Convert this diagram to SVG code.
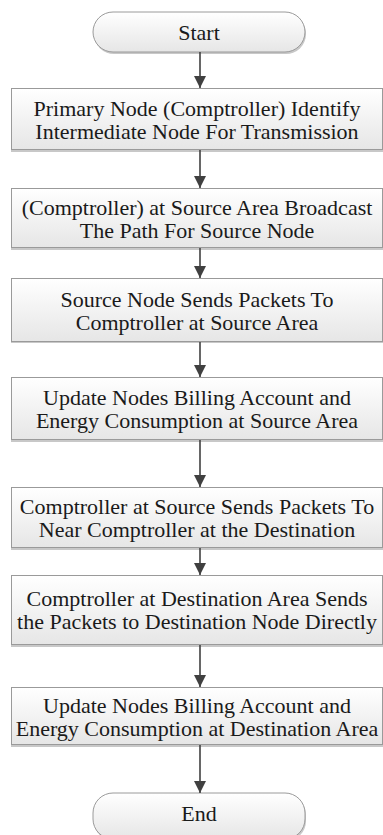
<svg xmlns="http://www.w3.org/2000/svg" width="383" height="835" viewBox="0 0 383 835">
  <defs>
    <linearGradient id="g" x1="0" y1="0" x2="0" y2="1">
      <stop offset="0" stop-color="#ffffff"/>
      <stop offset="1" stop-color="#e6e6e6"/>
    </linearGradient>
    <marker id="ah" markerWidth="12" markerHeight="12" refX="10" refY="5" orient="auto" markerUnits="userSpaceOnUse" viewBox="0 0 10 10">
      <path d="M0,0 L10,5 L0,10 Z" fill="#404040"/>
    </marker>
  </defs>
  <style>
    .box { fill: url(#g); stroke: #9a9a9a; stroke-width: 1; }
    .shadow { fill: #c8c8c8; }
    .t { font-family: "Liberation Serif", "Times New Roman", serif; font-size: 22px; fill: #1a1a1a; text-anchor: middle; }
    .c { stroke: #404040; stroke-width: 1.6; fill: none; marker-end: url(#ah); }
  </style>
  <rect width="383" height="835" fill="#ffffff"/>

  <g id="start">
    <rect class="shadow" x="94" y="14" width="212" height="40" rx="20"/>
    <rect class="box" x="93" y="12" width="212" height="40" rx="20"/>
    <text class="t" x="199" y="39.5">Start</text>
  </g>

  <g id="n1">
    <rect class="shadow" x="11" y="90" width="372" height="62"/>
    <rect class="box" x="11.5" y="88.5" width="371" height="61"/>
    <text class="t" x="197" y="115.5">Primary Node (Comptroller) Identify</text>
    <text class="t" x="197" y="138.5">Intermediate Node For Transmission</text>
  </g>

  <g id="n2">
    <rect class="shadow" x="11" y="190" width="372" height="60"/>
    <rect class="box" x="11.5" y="188.5" width="371" height="59"/>
    <text class="t" x="197" y="214.5">(Comptroller) at Source Area Broadcast</text>
    <text class="t" x="197" y="237.5">The Path For Source Node</text>
  </g>

  <g id="n3">
    <rect class="shadow" x="11" y="280" width="372" height="63"/>
    <rect class="box" x="11.5" y="278.5" width="371" height="63"/>
    <text class="t" x="197" y="306.5">Source Node Sends Packets To</text>
    <text class="t" x="197" y="329.5">Comptroller at Source Area</text>
  </g>

  <g id="n4">
    <rect class="shadow" x="11" y="379" width="372" height="63"/>
    <rect class="box" x="11.5" y="377.5" width="371" height="62"/>
    <text class="t" x="197" y="404.5">Update Nodes Billing Account and</text>
    <text class="t" x="197" y="427.5">Energy Consumption at Source Area</text>
  </g>

  <g id="n5">
    <rect class="shadow" x="11" y="489" width="372" height="61"/>
    <rect class="box" x="11.5" y="487.5" width="371" height="60"/>
    <text class="t" x="197" y="513.5">Comptroller at Source Sends Packets To</text>
    <text class="t" x="197" y="536.5">Near Comptroller at the Destination</text>
  </g>

  <g id="n6">
    <rect class="shadow" x="11" y="577" width="372" height="70"/>
    <rect class="box" x="11.5" y="575.5" width="371" height="69"/>
    <text class="t" x="197" y="605.5">Comptroller at Destination Area Sends</text>
    <text class="t" x="197" y="628.5">the Packets to Destination Node Directly</text>
  </g>

  <g id="n7">
    <rect class="shadow" x="11" y="689" width="372" height="58"/>
    <rect class="box" x="11.5" y="687.5" width="371" height="57"/>
    <text class="t" x="197" y="712.5">Update Nodes Billing Account and</text>
    <text class="t" x="197" y="735.5">Energy Consumption at Destination Area</text>
  </g>

  <g id="end">
    <rect class="shadow" x="94" y="795" width="212" height="46" rx="20"/>
    <rect class="box" x="93" y="793" width="212" height="46" rx="20"/>
    <text class="t" x="199" y="821">End</text>
  </g>

  <g id="connectors">
    <line class="c" x1="200" y1="52" x2="200" y2="88"/>
    <line class="c" x1="200" y1="150" x2="200" y2="188"/>
    <line class="c" x1="200" y1="248" x2="200" y2="278"/>
    <line class="c" x1="200" y1="342" x2="200" y2="377"/>
    <line class="c" x1="200" y1="440" x2="200" y2="487"/>
    <line class="c" x1="200" y1="548" x2="200" y2="575"/>
    <line class="c" x1="200" y1="645" x2="200" y2="687"/>
    <line class="c" x1="200" y1="745" x2="200" y2="793"/>
  </g>
</svg>
